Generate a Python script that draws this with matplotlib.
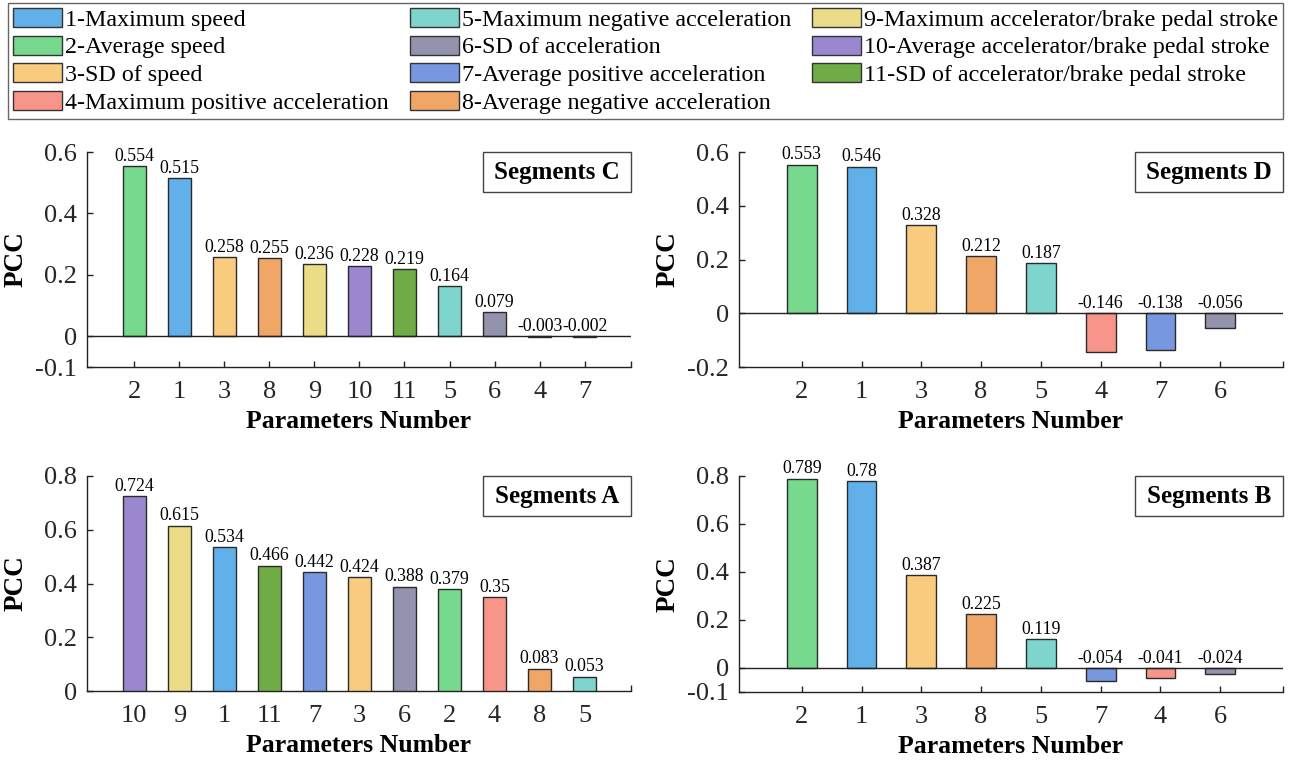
import numpy as np
import matplotlib.pyplot as plt
from matplotlib.patches import Patch, Rectangle

plt.rcParams['font.family'] = ['Liberation Serif', 'DejaVu Serif']

# parameter names and colours (index = parameter number - 1)
names = ['1-Maximum speed', '2-Average speed', '3-SD of speed',
         '4-Maximum positive acceleration', '5-Maximum negative acceleration',
         '6-SD of acceleration', '7-Average positive acceleration',
         '8-Average negative acceleration', '9-Maximum accelerator/brake pedal stroke',
         '10-Average accelerator/brake pedal stroke', '11-SD of accelerator/brake pedal stroke']
colors = ['#62B0EA', '#77D98D', '#F8CB7F', '#F8958A', '#7DD5CD', '#9393AD',
          '#7797E0', '#EFA666', '#EBDC87', '#9A87CF', '#6FAC46']

c_ids = [2, 1, 3, 8, 9, 10, 11, 5, 6, 4, 7]
c_vals = [0.554, 0.515, 0.258, 0.255, 0.236, 0.228, 0.219, 0.164, 0.079, -0.003, -0.002]
d_ids = [2, 1, 3, 8, 5, 4, 7, 6]
d_vals = [0.553, 0.546, 0.328, 0.212, 0.187, -0.146, -0.138, -0.056]
a_ids = [10, 9, 1, 11, 7, 3, 6, 2, 4, 8, 5]
a_vals = [0.724, 0.615, 0.534, 0.466, 0.442, 0.424, 0.388, 0.379, 0.35, 0.083, 0.053]
b_ids = [2, 1, 3, 8, 5, 7, 4, 6]
b_vals = [0.789, 0.78, 0.387, 0.225, 0.119, -0.054, -0.041, -0.024]

fig = plt.figure(figsize=(12.9, 7.61), dpi=100)

W, H = 1290, 761
def rect_px(left, right, top, bottom):
    return [left / W, 1 - bottom / H, (right - left) / W, (bottom - top) / H]

panels = [
    # ids, vals, rect, ylim, yticks, xlim, title
    (c_ids, c_vals, rect_px(87, 631, 152, 367), (-0.1, 0.6), [-0.1, 0, 0.2, 0.4, 0.6], (-0.05, 12.03), 'Segments C'),
    (d_ids, d_vals, rect_px(739, 1283, 152, 367), (-0.2, 0.6), [-0.2, 0, 0.2, 0.4, 0.6], (-0.05, 9.05), 'Segments D'),
    (a_ids, a_vals, rect_px(87, 631, 476, 691), (0, 0.8), [0, 0.2, 0.4, 0.6, 0.8], (-0.05, 12.03), 'Segments A'),
    (b_ids, b_vals, rect_px(739, 1283, 476, 692), (-0.1, 0.8), [-0.1, 0, 0.2, 0.4, 0.6, 0.8], (-0.05, 9.05), 'Segments B'),
]

for ids, vals, rect, ylim, yticks, xlim, title in panels:
    ax = fig.add_axes(rect)
    x = np.arange(1, len(ids) + 1)
    ax.bar(x, vals, width=0.5, color=[colors[i - 1] for i in ids],
           edgecolor='#2a2a2a', linewidth=1.0, zorder=3)
    for xi, v in zip(x, vals):
        ax.text(xi, max(v, 0) + (ylim[1] - ylim[0]) * 0.006, f'{v:g}',
                ha='center', va='bottom', fontsize=12.8)
    if ylim[0] < 0:
        ax.axhline(0, color='#222222', linewidth=1.0, zorder=4)
    ax.set_xlim(*xlim)
    ax.set_ylim(*ylim)
    ax.set_xticks(list(x) + [xlim[1]])
    ax.set_xticklabels([str(i) for i in ids] + [''])
    ax.set_yticks(yticks)
    ax.set_yticklabels([f'{t:g}' for t in yticks])
    ax.spines['top'].set_visible(False)
    ax.spines['right'].set_visible(False)
    for s in ['left', 'bottom']:
        ax.spines[s].set_color('#222222')
        ax.spines[s].set_linewidth(1.0)
    ax.tick_params(axis='both', direction='in', length=4.3, width=1, color='#222222',
                   labelsize=19, labelcolor='#262626')
    ax.tick_params(axis='x', pad=10)
    ax.tick_params(axis='y', pad=7)
    ax.set_ylabel('PCC', fontsize=19.5, fontweight='bold')
    ax.yaxis.set_label_coords(-0.108, 0.5)
    ax.set_xlabel('Parameters Number', fontsize=18.5, fontweight='bold')
    ax.xaxis.set_label_coords(0.5, -0.2)
    # title box in the upper right corner
    bw, bh = 148 / 544, 40 / 215
    ax.add_patch(Rectangle((1 - bw, 1 - bh), bw, bh, transform=ax.transAxes,
                           facecolor='white', edgecolor='#444444', linewidth=1,
                           zorder=5, clip_on=False))
    ax.text(1 - bw / 2, 1 - bh / 2, title, transform=ax.transAxes,
            ha='center', va='center', fontsize=18, fontweight='bold', zorder=6)

handles = [Patch(facecolor=c, edgecolor='#333333', linewidth=1) for c in colors]
leg = fig.legend(handles, names, loc='upper left', ncol=3, mode='expand',
                 bbox_to_anchor=(8 / W, 1 - 118 / H, 1275 / W, 115 / H),
                 borderaxespad=0,
                 fontsize=17.3, handlelength=2.05, handleheight=0.85, handletextpad=0.12,
                 labelspacing=0.2, borderpad=0.2, columnspacing=0.4,
                 fancybox=False, edgecolor='#666666', framealpha=1)
leg.get_frame().set_linewidth(1)

fig.savefig('out.png', dpi=100)
